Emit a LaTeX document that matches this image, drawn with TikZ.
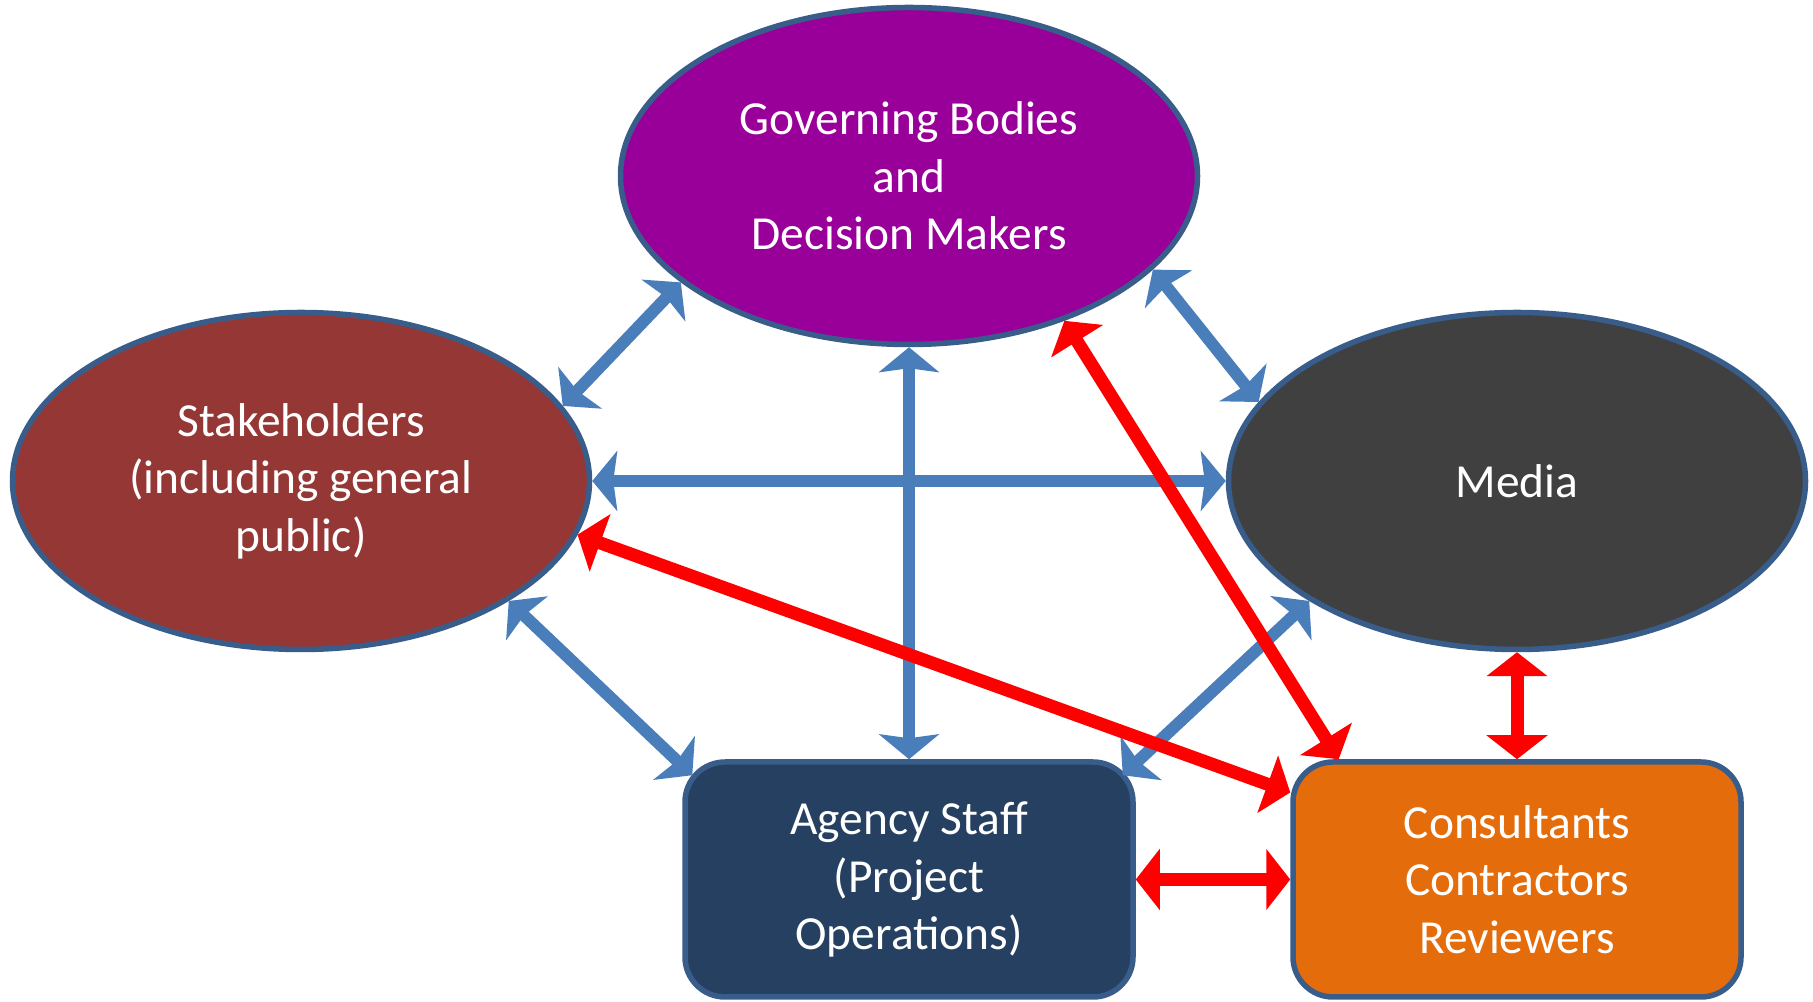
\documentclass[tikz,border=0pt]{standalone}
\usepackage{fontspec}
\setmainfont{Carlito}
\usetikzlibrary{arrows.meta,shapes.geometric,calc}
\definecolor{edgeblue}{RGB}{56,93,138}
\definecolor{linkblue}{RGB}{74,126,187}
\definecolor{govpurple}{RGB}{153,0,153}
\definecolor{stakered}{RGB}{149,55,53}
\definecolor{mediagray}{RGB}{64,64,64}
\definecolor{staffnavy}{RGB}{38,64,97}
\definecolor{consorange}{RGB}{228,108,10}
\tikzset{
  >=Stealth,
  party/.style={ellipse, draw=edgeblue, line width=0.55mm, inner sep=0pt, minimum width=5.77cm, minimum height=3.37cm, text=white, align=center, font=\fontsize{13.5}{16.4}\selectfont},
  unit/.style={rectangle, draw=edgeblue, line width=0.55mm, rounded corners=4mm, minimum width=4.48cm, minimum height=2.35cm, text=white, align=center, font=\fontsize{13.5}{16.4}\selectfont},
  bl/.style={{Stealth[length=2.5mm,width=6mm,inset=0.4mm]}-{Stealth[length=2.5mm,width=6mm,inset=0.4mm]}, draw=linkblue, line width=1.2mm},
  rd/.style={{Triangle[length=2.4mm,width=6mm]}-{Triangle[length=2.4mm,width=6mm]}, draw=red, line width=1.3mm}
}
\begin{document}
\begin{tikzpicture}
    \useasboundingbox (0,0) rectangle (18.13,10.02);

    % the five groups
    \node[party, fill=govpurple] (gov) at (9.09,8.26) {Governing Bodies\\and\\Decision Makers};
    \node[party, fill=stakered] (stake) at (3.01,5.21) {Stakeholders\\(including general\\public)};
    \node[party, fill=mediagray] (media) at (15.17,5.21) {Media};
    \node[unit, fill=staffnavy] (staff) at (9.09,1.225) {Agency Staff\\(Project\\Operations)};
    \node[unit, fill=consorange] (cons) at (15.17,1.225) {Consultants\\Contractors\\Reviewers};

    % blue links
    \draw[bl] (stake.16) -- (gov.205);
    \draw[bl] (gov.339) -- (media.163);
    \draw[bl] (gov.south) -- (staff.north);
    \draw[bl] (stake.east) -- (media.west);
    \draw[bl] (stake.330) -- ($(staff.north west)+(0.1,-0.16)$);
    \draw[bl] (media.210) -- ($(staff.north east)+(-0.13,-0.16)$);

    % red links
    \draw[rd] (gov.317.6) -- (cons.146.4);
    \draw[rd] (stake.349) -- (cons.159.7);
    \draw[rd] (staff.east) -- (cons.west);
    \draw[rd] (media.south) -- (cons.north);
\end{tikzpicture}
\end{document}
